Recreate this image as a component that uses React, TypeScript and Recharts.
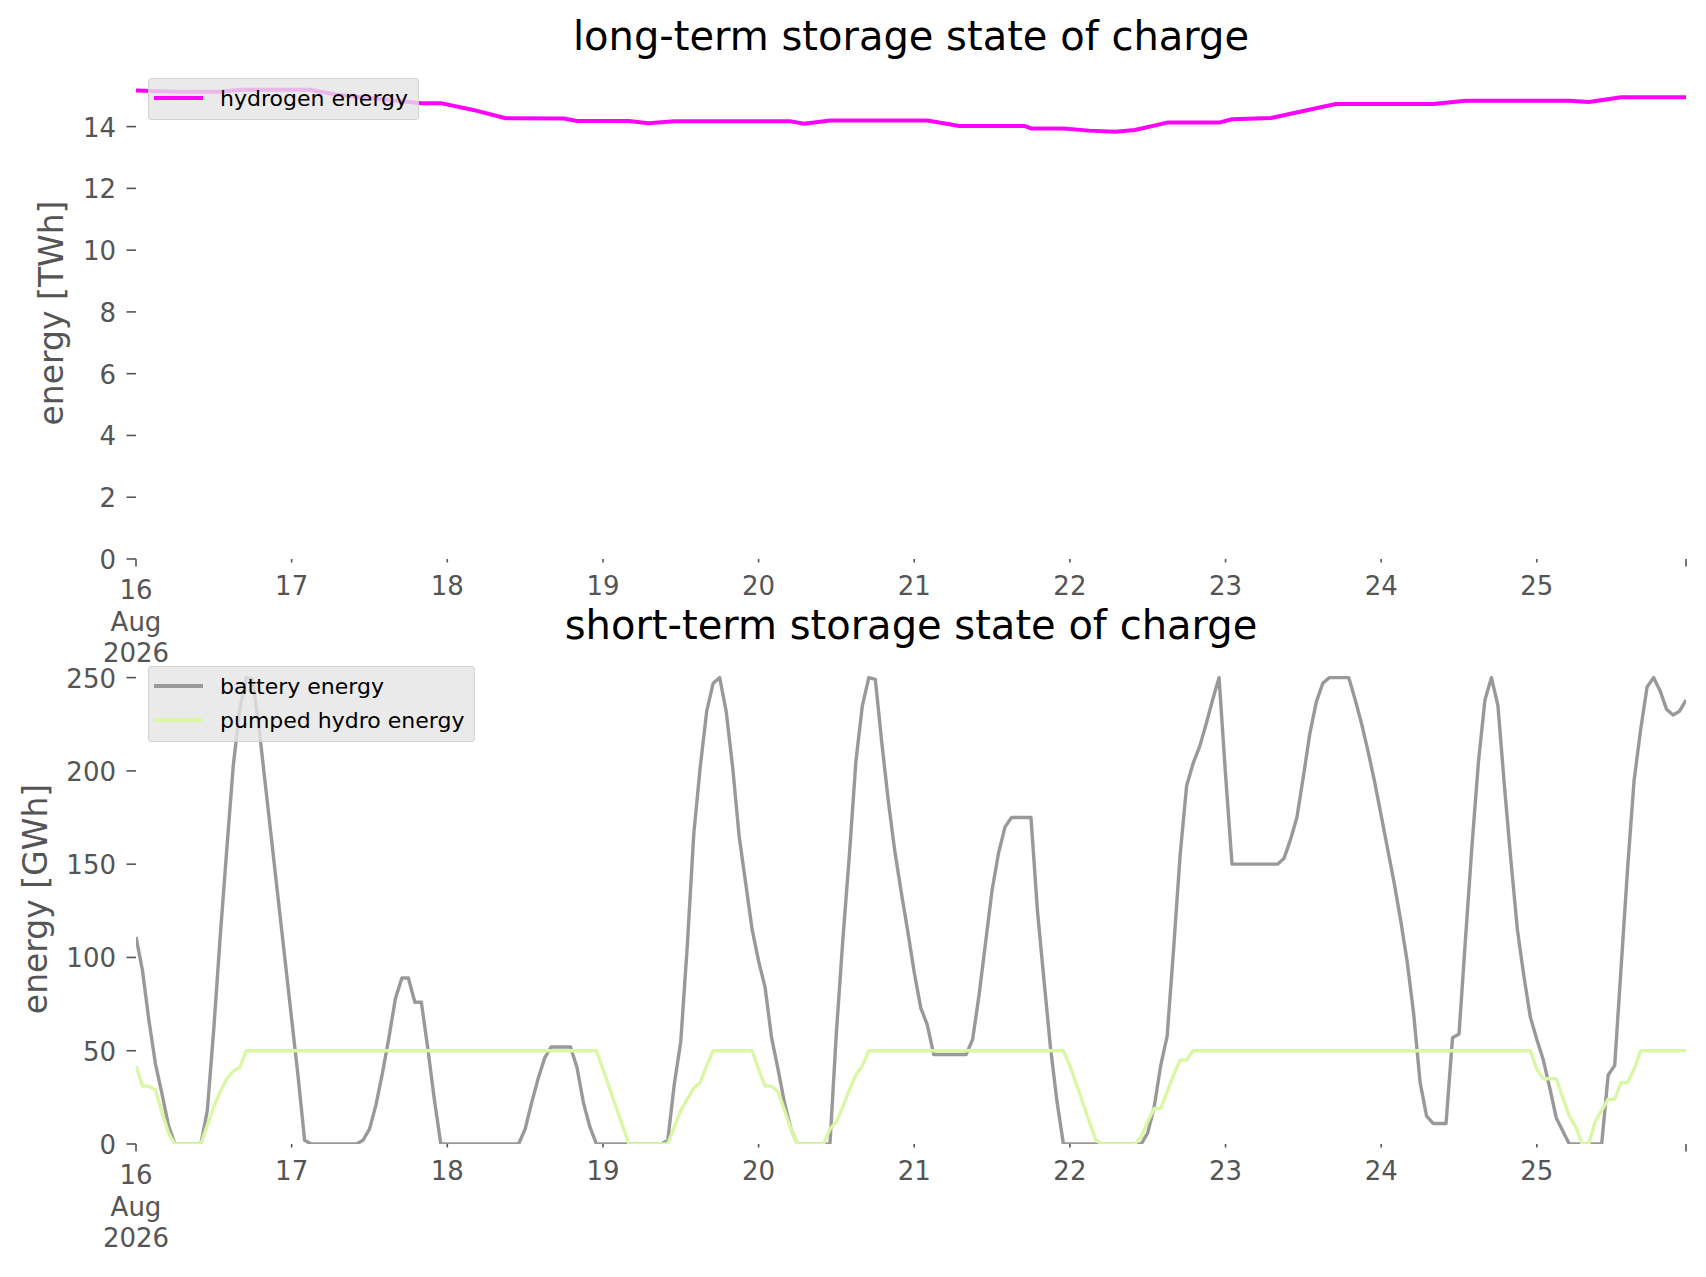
import React from "react"
import { LineChart, Line, XAxis, YAxis, Legend } from "recharts"

// x axis: hours since 16 Aug 2026 00:00
const tickHours = [0, 24, 48, 72, 96, 120, 144, 168, 192, 216, 239]
const tickLabels = ["16\nAug\n2026", "17", "18", "19", "20", "21", "22", "23", "24", "25", ""]

const twhTicks = [0, 2, 4, 6, 8, 10, 12, 14]
const gwhTicks = [0, 50, 100, 150, 200, 250]

// long-term storage (TWh)
const hydrogenHours = [0, 6, 13, 16, 27, 31, 35, 44, 47, 52, 57, 66, 68, 76, 79, 83, 101, 103, 107, 122, 127, 137, 138, 143, 147, 151, 154, 159, 167, 169, 175, 185, 200, 205, 221, 224, 229, 239]
const hydrogenTWh = [15.17, 15.13, 15.13, 15.19, 15.19, 15.03, 14.95, 14.76, 14.76, 14.54, 14.27, 14.26, 14.18, 14.18, 14.11, 14.17, 14.17, 14.09, 14.2, 14.2, 14.02, 14.02, 13.94, 13.94, 13.87, 13.83, 13.89, 14.13, 14.13, 14.24, 14.28, 14.73, 14.73, 14.84, 14.84, 14.8, 14.95, 14.95]

// short-term storage (GWh)
const batteryHours = [
    0, 1, 2, 3, 4, 5, 6, 10, 11, 12, 13, 14, 15, 16, 17, 18, 19, 20, 21, 22, 23, 24, 25, 26, 27,
    34, 35, 36, 37, 38, 39, 40, 41, 42, 43, 44, 45, 46, 47,
    59, 60, 61, 62, 63, 64, 67, 68, 69, 70, 71,
    81, 82, 83, 84, 85, 86, 87, 88, 89, 90, 91, 92, 93, 94, 95, 96, 97, 98, 99, 100, 101, 102,
    107, 108, 109, 110, 111, 112, 113, 114, 115, 116, 117, 118, 119, 120, 121, 122, 123, 128, 129, 130, 131, 132, 133, 134, 135, 138, 139, 140, 141, 142, 143,
    155, 156, 157, 158, 159, 160, 161, 162, 163, 164, 165, 166, 167, 168, 169, 176, 177, 178, 179, 180, 181, 182, 183, 184, 187,
    188, 189, 190, 191, 192, 193, 194, 195, 196, 197, 198, 199, 200, 202, 203, 204, 205, 206, 207, 208, 209,
    210, 211, 212, 213, 214, 215, 216, 217, 218, 219, 220, 221, 226, 227, 228, 229, 230, 231, 232, 233, 234, 235, 236, 237, 238, 239,
]
const batteryGWh = [
    111, 93, 66, 43, 27, 10, 0, 0, 18, 62, 112, 158, 203, 233, 250, 249, 222, 191, 160, 129, 98, 67, 36, 2, 0,
    0, 2, 8, 21, 38, 57, 78, 89, 89, 76, 76, 51, 24, 0,
    0, 8, 22, 35, 46, 52, 52, 41, 22, 9, 0,
    0, 2, 32, 55, 106, 166, 202, 232, 247, 250, 232, 202, 165, 140, 115, 98, 84, 57, 40, 22, 8, 0,
    0, 60, 110, 155, 205, 235, 250, 249, 215, 184, 157, 135, 114, 92, 73, 64, 48, 48, 56, 80, 108, 136, 156, 170, 175, 175, 125, 88, 52, 23, 0,
    0, 6, 20, 42, 58, 105, 155, 192, 204, 213, 225, 238, 250, 198, 150, 150, 153, 163, 175, 197, 220, 237, 247, 250, 250,
    238, 225, 210, 194, 176, 158, 140, 120, 98, 70, 33, 15, 11, 11, 57, 59, 110, 160, 205, 238, 250,
    235, 192, 152, 115, 90, 68, 56, 45, 30, 14, 7, 0, 0, 37, 42, 95, 148, 195, 222, 245, 250, 243, 233, 230, 232, 238,
]

const pumpedHours = [
    0, 1, 2, 3, 4, 5, 6, 10, 11, 12, 13, 14, 15, 16, 17, 71, 72, 73, 74, 75, 76,
    82, 83, 84, 85, 86, 87, 88, 89, 95, 96, 97, 98, 99, 100, 101, 102,
    106, 107, 108, 109, 110, 111, 112, 113, 143, 144, 145, 146, 147, 148, 149,
    154, 155, 156, 157, 158, 159, 160, 161, 162, 163, 215, 216, 217, 219, 220, 221, 222, 223, 224,
    225, 226, 227, 228, 229, 230, 231, 232, 239,
]
const pumpedGWh = [
    42, 31, 31, 29, 17, 6, 0, 0, 10, 20, 28, 35, 39, 41, 50, 50, 40, 30, 20, 10, 0,
    0, 9, 18, 24, 30, 33, 42, 50, 50, 40, 31, 31, 28, 18, 8, 0,
    0, 8, 12, 20, 29, 37, 42, 50, 50, 42, 32, 22, 12, 2, 0,
    0, 4, 12, 19, 19, 28, 37, 45, 45, 50, 50, 40, 35, 35, 25, 15, 9, 0, 0,
    12, 18, 24, 24, 33, 33, 40, 50, 50,
]

const toRows = (hours: number[], values: number[]) => hours.map((t, i) => ({ t, v: values[i] }))

const hydrogenData = toRows(hydrogenHours, hydrogenTWh)
const batteryData = toRows(batteryHours, batteryGWh)
const pumpedData = toRows(pumpedHours, pumpedGWh)

const FONT = "DejaVu Sans"
const TICK_COLOR = "#555555"

const XTick = (props: any) => {
    const { x, y, payload } = props
    const idx = tickHours.indexOf(payload.value)
    const label = idx >= 0 ? tickLabels[idx] : ""
    const major = payload.value === 0 || payload.value === 239
    const lines = label ? label.split("\n") : []
    return (
        <g>
            <line x1={x} x2={x} y1={y} y2={y + (major ? 7.5 : 3.5)} stroke={TICK_COLOR} strokeWidth={1.6} />
            {lines.map((s, i) => (
                <text
                    key={i}
                    x={x}
                    y={y + (major ? 40 : 36) + i * 31.5}
                    textAnchor="middle"
                    fill={TICK_COLOR}
                    fontSize={26}
                    fontFamily={FONT}
                >
                    {s}
                </text>
            ))}
        </g>
    )
}

const YTick = (props: any) => {
    const { x, y, payload } = props
    return (
        <g>
            <line x1={x - 9.5} x2={x} y1={y} y2={y} stroke={TICK_COLOR} strokeWidth={1.6} />
            <text x={x - 20} y={y + 10} textAnchor="end" fill={TICK_COLOR} fontSize={26} fontFamily={FONT}>
                {payload.value}
            </text>
        </g>
    )
}

const LegendBox = (props: any) => {
    const { payload } = props
    return (
        <div
            style={{
                background: "rgba(229,229,229,0.8)",
                border: "1px solid rgba(204,204,204,0.8)",
                borderRadius: 4,
                padding: "2px 10px 4px 5px",
                fontFamily: FONT,
                fontSize: 22,
                color: "#000",
                boxSizing: "border-box",
            }}
        >
            {(payload || []).map((p: any) => (
                <div key={p.value} style={{ display: "flex", alignItems: "center", height: 34, whiteSpace: "nowrap" }}>
                    <span
                        style={{
                            display: "inline-block",
                            width: 49,
                            height: p.payload?.strokeWidth ?? 3.3,
                            background: p.color,
                            marginRight: 17,
                        }}
                    />
                    <span>{p.value}</span>
                </div>
            ))}
        </div>
    )
}

export default function App() {
    return (
        <div
            style={{
                position: "absolute",
                left: 0,
                top: 0,
                width: 1706,
                height: 1277,
                background: "#fff",
                fontFamily: FONT,
            }}
        >
            {/* long-term storage */}
            <div style={{ position: "absolute", left: 0, top: 0 }}>
                <LineChart width={1706} height={700} margin={{ top: 67, right: 20, left: 0, bottom: 41 }}>
                    <XAxis
                        dataKey="t"
                        type="number"
                        domain={[0, 239]}
                        ticks={tickHours}
                        interval={0}
                        allowDataOverflow
                        axisLine={false}
                        tickLine={false}
                        tickSize={0}
                        tickMargin={0}
                        height={100}
                        tick={<XTick />}
                    />
                    <YAxis
                        type="number"
                        domain={[0, 15.93]}
                        ticks={twhTicks}
                        interval={0}
                        allowDataOverflow
                        axisLine={false}
                        tickLine={false}
                        tickSize={0}
                        tickMargin={0}
                        width={136}
                        tick={<YTick />}
                    />
                    <Line
                        data={hydrogenData}
                        dataKey="v"
                        name="hydrogen energy"
                        type="linear"
                        stroke="#ff00ff"
                        strokeWidth={4}
                        strokeLinejoin="round"
                        dot={false}
                        activeDot={false}
                        isAnimationActive={false}
                    />
                    <Legend
                        layout="vertical"
                        align="center"
                        verticalAlign="middle"
                        content={<LegendBox />}
                        wrapperStyle={{ left: 148, top: 78, width: "auto", height: "auto" }}
                    />
                </LineChart>
            </div>

            {/* short-term storage */}
            <div style={{ position: "absolute", left: 0, top: 600 }}>
                <LineChart width={1706} height={677} margin={{ top: 54.3, right: 20, left: 0, bottom: 33 }}>
                    <XAxis
                        dataKey="t"
                        type="number"
                        domain={[0, 239]}
                        ticks={tickHours}
                        interval={0}
                        allowDataOverflow
                        axisLine={false}
                        tickLine={false}
                        tickSize={0}
                        tickMargin={0}
                        height={100}
                        tick={<XTick />}
                    />
                    <YAxis
                        type="number"
                        domain={[0, 262.5]}
                        ticks={gwhTicks}
                        interval={0}
                        allowDataOverflow
                        axisLine={false}
                        tickLine={false}
                        tickSize={0}
                        tickMargin={0}
                        width={136}
                        tick={<YTick />}
                    />
                    <Line
                        data={batteryData}
                        dataKey="v"
                        name="battery energy"
                        type="linear"
                        stroke="#999999"
                        strokeWidth={3.4}
                        strokeLinejoin="round"
                        dot={false}
                        activeDot={false}
                        isAnimationActive={false}
                    />
                    <Line
                        data={pumpedData}
                        dataKey="v"
                        name="pumped hydro energy"
                        type="linear"
                        stroke="#daf7a6"
                        strokeWidth={3.4}
                        strokeLinejoin="round"
                        dot={false}
                        activeDot={false}
                        isAnimationActive={false}
                    />
                    <Legend
                        layout="vertical"
                        align="center"
                        verticalAlign="middle"
                        content={<LegendBox />}
                        wrapperStyle={{ left: 148, top: 66, width: "auto", height: "auto" }}
                    />
                </LineChart>
            </div>

            {/* titles and axis labels */}
            <svg
                width={1706}
                height={1277}
                style={{ position: "absolute", left: 0, top: 0, pointerEvents: "none" }}
            >
                <text x={911} y={50} textAnchor="middle" fontSize={40} fontFamily={FONT} fill="#000">
                    long-term storage state of charge
                </text>
                <text x={911} y={639} textAnchor="middle" fontSize={40} fontFamily={FONT} fill="#000">
                    short-term storage state of charge
                </text>
                <text
                    x={63}
                    y={313}
                    transform="rotate(-90 63 313)"
                    textAnchor="middle"
                    fontSize={33}
                    fontFamily={FONT}
                    fill={TICK_COLOR}
                >
                    energy [TWh]
                </text>
                <text
                    x={47}
                    y={899}
                    transform="rotate(-90 47 899)"
                    textAnchor="middle"
                    fontSize={33}
                    fontFamily={FONT}
                    fill={TICK_COLOR}
                >
                    energy [GWh]
                </text>
            </svg>
        </div>
    )
}
